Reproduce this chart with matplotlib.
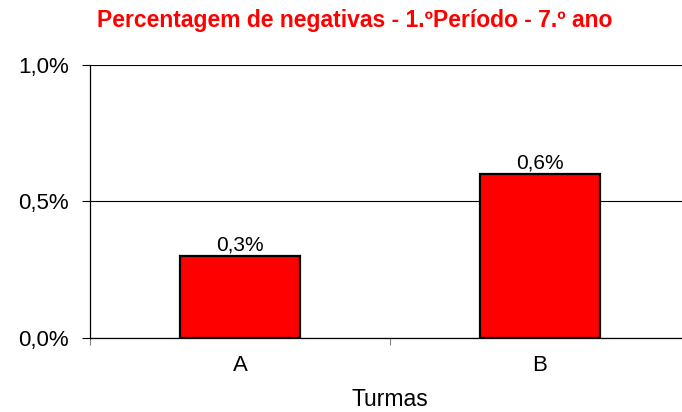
import matplotlib

matplotlib.use("Agg")
import matplotlib.pyplot as plt
from matplotlib.ticker import FuncFormatter, FixedLocator

plt.rcParams["font.family"] = ["Liberation Sans", "DejaVu Sans"]

# data
turmas = ["A", "B"]
negativas = [0.003, 0.006]  # fraction (0,3% and 0,6%)
titulo = "Percentagem de negativas - 1.ºPeríodo - 7.º ano"


def pct(v, _pos=None):
    return f"{v * 100:.1f}%".replace(".", ",")


fig = plt.figure(figsize=(6.82, 4.12), dpi=100)
ax = fig.add_axes([90 / 682, 1 - 338 / 412, 600 / 682, 273 / 412])

x = range(len(turmas))
bars = ax.bar(x, negativas, width=0.4, color="#FF0000", edgecolor="black",
              linewidth=1.6, zorder=3)
for b, v in zip(bars, negativas):
    ax.annotate(pct(v), (b.get_x() + b.get_width() / 2, v), xytext=(0, 1.5),
                textcoords="offset points", ha="center", va="bottom",
                fontsize=15, color="black")

ax.set_xlim(-0.5, len(turmas) - 0.5)
ax.set_ylim(0, 0.01)
ax.yaxis.set_major_locator(FixedLocator([0, 0.005, 0.01]))
ax.yaxis.set_major_formatter(FuncFormatter(pct))
ax.grid(axis="y", color="black", linewidth=0.8, zorder=1)

ax.set_xticks(list(x))
ax.set_xticklabels(turmas)
ax.set_xticks([i - 0.5 for i in range(len(turmas) + 1)], minor=True)
ax.tick_params(axis="x", which="major", length=0, pad=12, labelsize=16)
ax.tick_params(axis="x", which="minor", length=5, color="#808080", width=0.8)
ax.tick_params(axis="y", length=6, width=0.8, pad=9, labelsize=16)

for s in ["top", "right"]:
    ax.spines[s].set_visible(False)
ax.spines["left"].set_linewidth(0.9)
ax.spines["bottom"].set_linewidth(0.9)

ax.set_xlabel("Turmas", fontsize=16.5)
ax.xaxis.set_label_coords(0.5, -0.227)
ax.xaxis.label.set_va("center")

fig.text(355 / 682, 1 - 21 / 412, titulo, color="#FF0000", fontsize=16.5,
         fontweight="bold", ha="center", va="center")

fig.savefig("out.png", dpi=100)
